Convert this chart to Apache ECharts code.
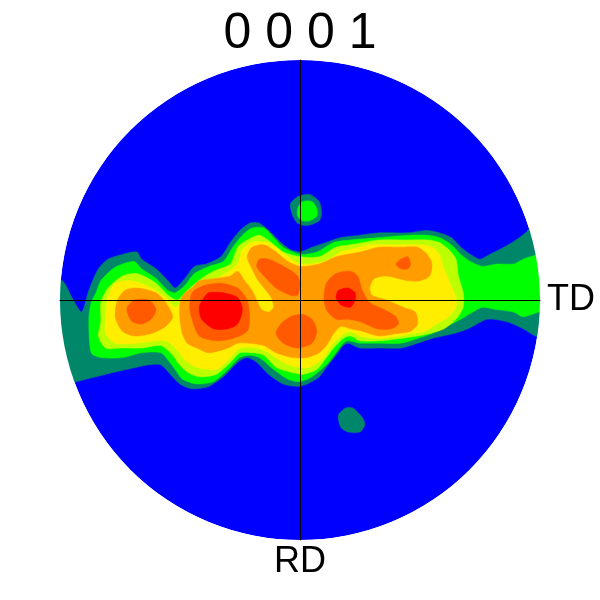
<!DOCTYPE html>
<html>
<head>
<meta charset="utf-8">
<title>0001 pole figure</title>
<script src="https://cdn.jsdelivr.net/npm/echarts@6/dist/echarts.min.js"></script>
<style>
  html, body { margin: 0; padding: 0; background: #ffffff; }
  #chart { width: 600px; height: 600px; }
</style>
</head>
<body>
<div id="chart"></div>
<script>
// pole figure {0001}, projection radius = 1
var titleText = '0 0 0 1';
var axisNames = ['TD', 'RD'];

// contour level colours, lowest (background) to highest
var levelColors = ['#0000ff', '#00876a', '#00ff00', '#bbff00', '#ffee00', '#ff9c00', '#ff5a00', '#ff0000'];

// contour polygons per level, [x, y] in projection units
var level1 = [
  [[-1.06,0.09],[-0.99,0.08],[-0.95,0.01],[-0.91,-0.05],[-0.88,0.04],[-0.84,0.13],[-0.80,0.17],[-0.74,0.19],[-0.68,0.20],[-0.66,0.17],[-0.60,0.13],[-0.55,0.08],[-0.52,0.05],[-0.48,0.09],[-0.44,0.14],[-0.39,0.15],[-0.33,0.18],[-0.29,0.24],[-0.25,0.29],[-0.21,0.32],[-0.17,0.32],[-0.13,0.29],[-0.08,0.24],[-0.04,0.21],[0,0.20],[0.05,0.22],[0.11,0.24],[0.17,0.26],[0.25,0.27],[0.33,0.28],[0.45,0.28],[0.53,0.29],[0.58,0.28],[0.63,0.26],[0.67,0.22],[0.71,0.19],[0.75,0.17],[0.79,0.19],[0.85,0.22],[0.90,0.25],[0.94,0.28],[0.97,0.31],[1.08,0.35],
   [1.08,-0.19],[0.98,-0.15],[0.93,-0.12],[0.86,-0.09],[0.78,-0.08],[0.70,-0.12],[0.64,-0.14],[0.55,-0.16],[0.49,-0.18],[0.42,-0.20],[0.33,-0.20],[0.25,-0.20],[0.20,-0.18],[0.18,-0.19],[0.15,-0.23],[0.11,-0.28],[0.08,-0.32],[0.03,-0.35],[-0.01,-0.36],[-0.07,-0.35],[-0.13,-0.31],[-0.18,-0.26],[-0.22,-0.24],[-0.26,-0.26],[-0.32,-0.32],[-0.38,-0.36],[-0.45,-0.37],[-0.50,-0.35],[-0.54,-0.31],[-0.58,-0.27],[-0.63,-0.27],[-0.68,-0.28],[-0.77,-0.30],[-0.85,-0.32],[-0.93,-0.34],[-1.06,-0.38]],
  [[-0.04,0.40],[-0.01,0.43],[0.04,0.44],[0.08,0.41],[0.09,0.36],[0.08,0.33],[0.03,0.31],[-0.01,0.32],[-0.03,0.35]],
  [[0.16,-0.48],[0.19,-0.45],[0.22,-0.45],[0.26,-0.49],[0.27,-0.52],[0.25,-0.55],[0.20,-0.55],[0.17,-0.53]]
];
var level2 = [
  [[-0.88,-0.08],[-0.87,-0.01],[-0.85,0.03],[-0.83,0.08],[-0.78,0.13],[-0.74,0.15],[-0.69,0.16],[-0.66,0.13],[-0.60,0.09],[-0.55,0.04],[-0.52,0.03],[-0.48,0.06],[-0.44,0.11],[-0.38,0.14],[-0.32,0.16],[-0.28,0.22],[-0.24,0.27],[-0.20,0.30],[-0.15,0.30],[-0.11,0.26],[-0.07,0.22],[0,0.19],[0.07,0.20],[0.14,0.24],[0.21,0.25],[0.33,0.26],[0.45,0.27],[0.53,0.27],[0.58,0.26],[0.63,0.23],[0.67,0.19],[0.71,0.16],[0.76,0.14],[0.82,0.15],[0.89,0.15],[0.93,0.17],[0.96,0.18],[1.08,0.21],
   [1.08,-0.06],[1.0,-0.05],[0.93,-0.07],[0.89,-0.05],[0.82,-0.04],[0.76,-0.03],[0.72,-0.05],[0.67,-0.08],[0.61,-0.11],[0.55,-0.14],[0.49,-0.16],[0.42,-0.18],[0.33,-0.18],[0.25,-0.18],[0.20,-0.17],[0.18,-0.18],[0.15,-0.22],[0.11,-0.27],[0.05,-0.32],[0,-0.34],[-0.05,-0.33],[-0.11,-0.29],[-0.17,-0.24],[-0.21,-0.23],[-0.25,-0.24],[-0.30,-0.29],[-0.36,-0.34],[-0.43,-0.35],[-0.49,-0.33],[-0.52,-0.29],[-0.55,-0.25],[-0.58,-0.22],[-0.66,-0.22],[-0.74,-0.24],[-0.83,-0.24],[-0.87,-0.22]],
  [[-0.01,0.38],[0.01,0.41],[0.05,0.41],[0.07,0.38],[0.07,0.35],[0.04,0.33],[0.01,0.33],[-0.01,0.35]]
];
var level3 = [
  [[-0.83,-0.09],[-0.83,-0.01],[-0.80,0.05],[-0.74,0.10],[-0.68,0.11],[-0.60,0.07],[-0.55,0.02],[-0.51,0],[-0.47,0.04],[-0.41,0.09],[-0.36,0.12],[-0.29,0.15],[-0.26,0.22],[-0.22,0.25],[-0.17,0.27],[-0.12,0.24],[-0.07,0.20],[0,0.18],[0.08,0.18],[0.15,0.22],[0.21,0.23],[0.33,0.25],[0.45,0.25],[0.53,0.25],[0.58,0.24],[0.62,0.21],[0.65,0.17],[0.66,0.10],[0.68,0.03],[0.68,-0.03],[0.65,-0.08],[0.60,-0.12],[0.54,-0.14],[0.49,-0.15],[0.42,-0.16],[0.33,-0.17],[0.25,-0.17],[0.21,-0.15],[0.18,-0.16],[0.14,-0.20],[0.11,-0.24],[0.07,-0.29],[0.01,-0.31],[-0.04,-0.30],[-0.10,-0.28],[-0.15,-0.23],[-0.20,-0.22],[-0.25,-0.22],[-0.29,-0.26],[-0.35,-0.31],[-0.42,-0.32],[-0.47,-0.30],[-0.51,-0.26],[-0.53,-0.23],[-0.58,-0.19],[-0.66,-0.20],[-0.74,-0.20],[-0.81,-0.20],[-0.84,-0.15]]
];
var level4 = [
  [[-0.81,-0.08],[-0.80,0.01],[-0.77,0.07],[-0.70,0.08],[-0.62,0.05],[-0.56,0.01],[-0.52,-0.03],[-0.49,0],[-0.47,0.03],[-0.41,0.07],[-0.33,0.10],[-0.26,0.15],[-0.24,0.21],[-0.20,0.24],[-0.14,0.24],[-0.10,0.22],[-0.05,0.18],[0,0.15],[0.10,0.16],[0.17,0.20],[0.21,0.21],[0.29,0.23],[0.40,0.23],[0.50,0.23],[0.55,0.22],[0.58,0.19],[0.60,0.13],[0.63,0.06],[0.65,0.01],[0.65,-0.03],[0.62,-0.07],[0.57,-0.10],[0.52,-0.13],[0.46,-0.14],[0.42,-0.15],[0.33,-0.16],[0.25,-0.15],[0.21,-0.13],[0.17,-0.15],[0.13,-0.19],[0.10,-0.24],[0.04,-0.28],[-0.01,-0.28],[-0.07,-0.26],[-0.13,-0.22],[-0.18,-0.20],[-0.25,-0.20],[-0.29,-0.24],[-0.35,-0.29],[-0.43,-0.28],[-0.48,-0.25],[-0.51,-0.21],[-0.56,-0.17],[-0.68,-0.18],[-0.77,-0.18],[-0.81,-0.14]]
];
var level5 = [
  [[-0.76,0],[-0.73,0.04],[-0.68,0.05],[-0.60,0.03],[-0.56,-0.01],[-0.53,-0.07],[-0.56,-0.11],[-0.62,-0.14],[-0.69,-0.15],[-0.74,-0.13],[-0.77,-0.07]],
  [[-0.50,-0.01],[-0.48,0.03],[-0.45,0.05],[-0.42,0.08],[-0.35,0.09],[-0.29,0.10],[-0.26,0.12],[-0.23,0.08],[-0.20,0.04],[-0.18,0],[-0.16,-0.04],[-0.13,-0.05],[-0.11,-0.03],[-0.12,0.01],[-0.15,0.05],[-0.18,0.09],[-0.20,0.13],[-0.22,0.18],[-0.20,0.22],[-0.15,0.23],[-0.10,0.20],[-0.05,0.16],[0,0.14],[0.08,0.15],[0.15,0.18],[0.25,0.20],[0.33,0.22],[0.42,0.22],[0.49,0.22],[0.53,0.19],[0.55,0.15],[0.54,0.10],[0.50,0.08],[0.45,0.08],[0.36,0.10],[0.31,0.09],[0.29,0.05],[0.30,0.02],[0.36,0],[0.43,-0.03],[0.48,-0.05],[0.49,-0.10],[0.46,-0.13],[0.40,-0.14],[0.33,-0.15],[0.26,-0.13],[0.21,-0.12],[0.17,-0.11],[0.14,-0.14],[0.11,-0.19],[0.08,-0.22],[0.03,-0.24],[-0.03,-0.24],[-0.10,-0.22],[-0.15,-0.19],[-0.21,-0.18],[-0.26,-0.18],[-0.30,-0.20],[-0.38,-0.22],[-0.43,-0.20],[-0.47,-0.18],[-0.49,-0.14],[-0.50,-0.08]]
];
var level6 = [
  [[-0.72,-0.03],[-0.69,0],[-0.63,0],[-0.60,-0.04],[-0.62,-0.08],[-0.66,-0.10],[-0.70,-0.09],[-0.72,-0.05]],
  [[-0.46,-0.03],[-0.45,0.03],[-0.40,0.06],[-0.33,0.07],[-0.26,0.05],[-0.22,0],[-0.21,-0.07],[-0.22,-0.13],[-0.28,-0.16],[-0.35,-0.17],[-0.42,-0.15],[-0.45,-0.08]],
  [[-0.18,0.14],[-0.17,0.17],[-0.13,0.17],[-0.05,0.13],[-0.01,0.10],[0,0.07],[-0.01,0.02],[-0.04,0.02],[-0.10,0.05],[-0.15,0.10]],
  [[-0.10,-0.14],[-0.08,-0.10],[-0.04,-0.07],[0.01,-0.06],[0.05,-0.08],[0.07,-0.13],[0.05,-0.18],[-0.01,-0.20],[-0.07,-0.18]],
  [[0.11,0.07],[0.15,0.11],[0.21,0.12],[0.24,0.10],[0.26,0.04],[0.29,-0.01],[0.35,-0.04],[0.40,-0.07],[0.41,-0.10],[0.38,-0.12],[0.32,-0.12],[0.25,-0.09],[0.20,-0.08],[0.15,-0.08],[0.11,-0.04],[0.10,0.01]],
  [[0.40,0.15],[0.42,0.17],[0.45,0.18],[0.46,0.15],[0.45,0.13],[0.42,0.13]]
];
var level7 = [
  [[-0.42,-0.03],[-0.40,0.01],[-0.38,0.03],[-0.32,0.03],[-0.26,0.01],[-0.24,-0.04],[-0.26,-0.10],[-0.30,-0.12],[-0.36,-0.12],[-0.41,-0.08]],
  [[0.15,0.01],[0.16,0.04],[0.20,0.05],[0.23,0.03],[0.23,0],[0.21,-0.03],[0.17,-0.02]]
];
var levels = [level1, level2, level3, level4, level5, level6, level7];

function polygonSeries(polys, color, z) {
  return {
    type: 'custom',
    z: z,
    silent: true,
    clip: false,
    data: polys.map(function () { return [0, 0]; }),
    renderItem: function (params, api) {
      var pts = polys[params.dataIndex].map(function (p) { return api.coord(p); });
      return {
        type: 'polygon',
        shape: { points: pts, smooth: 0.25 },
        style: { fill: color, stroke: color, lineWidth: 0.5 }
      };
    }
  };
}

var chart = echarts.init(document.getElementById('chart'), null, { renderer: 'canvas' });

var series = [];
// background disc
series.push({
  type: 'custom',
  z: 2,
  silent: true,
  data: [[0, 0]],
  renderItem: function (params, api) {
    var c = api.coord([0, 0]);
    return {
      type: 'circle',
      shape: { cx: c[0], cy: c[1], r: api.size([1, 1])[0] },
      style: { fill: levelColors[0] }
    };
  }
});
levels.forEach(function (polys, i) {
  series.push(polygonSeries(polys, levelColors[i + 1], 3 + i));
});
// white mask just outside the projection circle
series.push({
  type: 'custom',
  z: 20,
  silent: true,
  clip: false,
  data: [[0, 0]],
  renderItem: function (params, api) {
    var c = api.coord([0, 0]);
    var r = api.size([1, 1])[0];
    return {
      type: 'ring',
      shape: { cx: c[0], cy: c[1], r: r + 40, r0: r },
      style: { fill: '#ffffff' }
    };
  }
});

var option = {
  backgroundColor: '#ffffff',
  animation: false,
  title: {
    text: titleText,
    left: 'center',
    top: 4,
    z: 40,
    textStyle: {
      fontFamily: 'Liberation Sans, Arial, sans-serif',
      fontSize: 50,
      fontWeight: 'normal',
      color: '#000000'
    }
  },
  grid: { left: 60, top: 60, width: 480, height: 480 },
  xAxis: {
    type: 'value',
    min: -1,
    max: 1,
    z: 30,
    name: axisNames[0],
    nameLocation: 'end',
    nameGap: 7,
    nameTextStyle: { fontFamily: 'Liberation Sans, Arial, sans-serif', fontSize: 36, color: '#000000' },
    axisLine: { onZero: true, lineStyle: { color: '#000000', width: 1 } },
    axisTick: { show: false },
    axisLabel: { show: false },
    splitLine: { show: false }
  },
  yAxis: {
    type: 'value',
    min: -1,
    max: 1,
    z: 30,
    name: axisNames[1],
    nameLocation: 'start',
    nameGap: 4,
    nameTextStyle: { fontFamily: 'Liberation Sans, Arial, sans-serif', fontSize: 36, color: '#000000' },
    axisLine: { onZero: true, lineStyle: { color: '#000000', width: 1 } },
    axisTick: { show: false },
    axisLabel: { show: false },
    splitLine: { show: false }
  },
  series: series
};

chart.setOption(option);
</script>
</body>
</html>
